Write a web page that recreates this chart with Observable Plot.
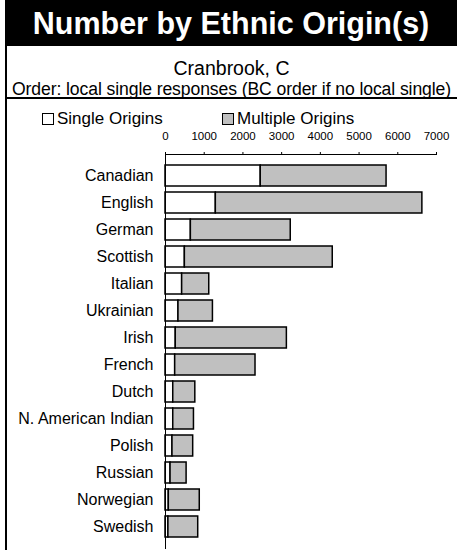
<!DOCTYPE html>
<html>
<head>
<meta charset="utf-8">
<script src="https://cdn.jsdelivr.net/npm/d3@7"></script>
<script src="https://cdn.jsdelivr.net/npm/@observablehq/plot@0.6"></script>
<style>
  html, body { margin: 0; padding: 0; background: #fff; }
  body { width: 459px; height: 550px; position: relative; overflow: hidden; font-family: "Liberation Sans", Arial, sans-serif; }
  #titlebar { position: absolute; left: 5px; top: 0; width: 452px; height: 46px; background: #000; color: #fff;
    font-weight: bold; font-size: 30.5px; text-align: center; line-height: 46px; }
  #sub1 { position: absolute; left: 6px; width: 451px; top: 57px; line-height: 22px; text-align: center; font-size: 19.5px; color: #000; }
  #sub2 { position: absolute; left: 5px; width: 453px; top: 79px; line-height: 20px; text-align: center; font-size: 17.6px; color: #000; white-space: nowrap; letter-spacing: -0.1px; }
  #lborder { position: absolute; left: 5px; top: 46px; width: 1.5px; height: 504px; background: #000; }
  #hborder { position: absolute; left: 5px; top: 97px; width: 452px; height: 1.5px; background: #000; }
  .leg { position: absolute; top: 109px; line-height: 20px; font-size: 17px; color: #000; display: flex; align-items: center; }
  .sw { width: 10px; height: 10px; border: 1.5px solid #000; margin-right: 3px; }
  #chart { position: absolute; left: 0; top: 120px; }
</style>
</head>
<body>
<div id="titlebar">Number by Ethnic Origin(s)</div>
<div id="sub1">Cranbrook, C</div>
<div id="sub2">Order: local single responses (BC order if no local single)</div>
<div id="lborder"></div>
<div id="hborder"></div>
<div class="leg" style="left:42px"><div class="sw" style="background:#fff"></div>Single Origins</div>
<div class="leg" style="left:222px"><div class="sw" style="background:#c0c0c0"></div>Multiple Origins</div>
<div id="chart"></div>
<script>
const origins = ["Canadian","English","German","Scottish","Italian","Ukrainian","Irish","French","Dutch","N. American Indian","Polish","Russian","Norwegian","Swedish"];
const singleValues = [2460,1300,655,500,430,335,265,250,200,200,180,130,85,75];
const multipleValues = [3250,5335,2580,3820,700,890,2870,2075,570,535,535,415,800,770];
const types = ["Single Origins","Multiple Origins"];
const xTicks = [0,1000,2000,3000,4000,5000,6000,7000];

const data = [];
origins.forEach((o, i) => {
  data.push({origin: o, type: types[0], value: singleValues[i]});
  data.push({origin: o, type: types[1], value: multipleValues[i]});
});

const chart = Plot.plot({
  width: 459,
  height: 430,
  marginLeft: 165,
  marginRight: 23,
  marginTop: 34,
  marginBottom: 1,
  style: {fontFamily: "'Liberation Sans', Arial, sans-serif", background: "transparent"},
  x: {domain: [0, 7000], axis: null, label: null},
  y: {domain: origins, paddingInner: 0.21, paddingOuter: 0.19, axis: null, label: null},
  color: {domain: types, range: ["#ffffff", "#c0c0c0"]},
  marks: [
    Plot.barX(data, Plot.stackX({x: "value", y: "origin", fill: "type", order: types, stroke: "#000", strokeWidth: 1.5, inset: 0})),
    Plot.axisX({anchor: "top", ticks: xTicks, tickSize: 3, tickPadding: 12, fontSize: 11.5, tickFormat: d => String(d), color: "#000", label: null}),
    Plot.frame({anchor: "top", stroke: "#000", strokeWidth: 1}),
    Plot.axisY({anchor: "left", tickSize: 0, tickPadding: 12, fontSize: 16, color: "#000", label: null}),
    Plot.ruleX([0], {stroke: "#000", strokeWidth: 1})
  ]
});
document.getElementById("chart").appendChild(chart);
</script>
</body>
</html>
